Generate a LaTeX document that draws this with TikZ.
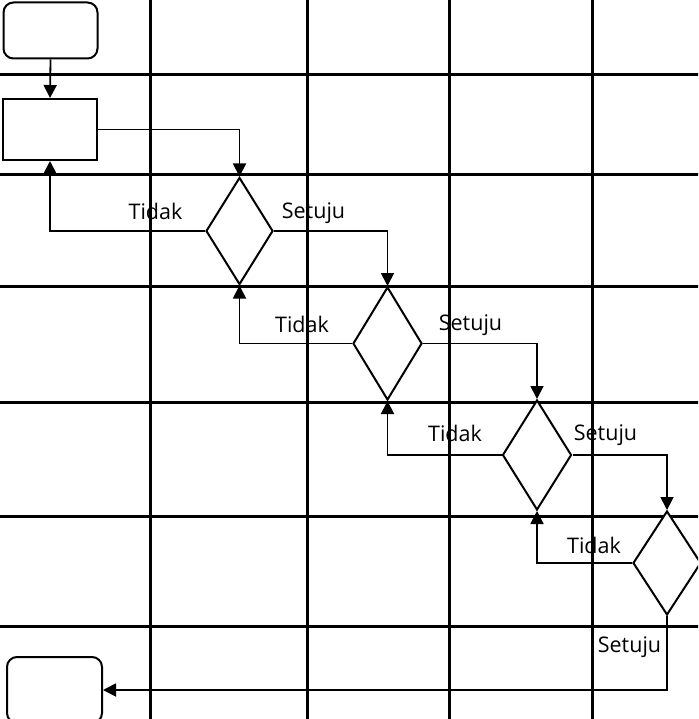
\documentclass[tikz,border=0pt]{standalone}
\usepackage{fontspec}
\setmainfont{Open Sans}
\usetikzlibrary{arrows.meta,shapes.geometric}
\begin{document}
\begin{tikzpicture}[x=1pt,y=-1pt,
  gridline/.style={line width=3pt,black},
  shapeline/.style={line width=2pt,draw=black,fill=white},
  conn/.style={line width=1.8pt,-{Triangle[length=13pt,width=13pt]}},
  lbl/.style={font=\fontsize{21.5}{24}\selectfont,inner sep=0pt},
]
\useasboundingbox (0,0) rectangle (698,719);
\clip (0,0) rectangle (698,719);
% labels (under grid)
\node[lbl] (t1) at (155.5,211) {Tidak};
\node[lbl] (s1) at (313.5,213) {Setuju};
\node[lbl] (t2) at (302,324) {Tidak};
\node[lbl] (s2) at (470.5,325) {Setuju};
\node[lbl] (t3) at (455,433) {Tidak};
\node[lbl] (s3) at (605.5,435) {Setuju};
\node[lbl] (t4) at (594,545) {Tidak};
\node[lbl] (s4) at (629.5,647) {Setuju};
% grid
\foreach \x in {150,307,449,592} \draw[gridline] (\x,-5) -- (\x,725);
\foreach \y in {75,175,286,402,516,626} \draw[gridline] (-5,\y) -- (705,\y);
% shapes
\node[shapeline,rounded corners=10pt,minimum width=94pt,minimum height=56pt,inner sep=0pt] (start) at (50.5,30.5) {};
\node[shapeline,minimum width=94pt,minimum height=61pt,inner sep=0pt] (proc) at (50,129.5) {};
\node[shapeline,diamond,inner sep=0pt,minimum width=67pt,minimum height=107pt,aspect=0.63] (d1) at (239.5,231) {};
\node[shapeline,diamond,inner sep=0pt,minimum width=69pt,minimum height=113pt,aspect=0.61] (d2) at (387.5,343.5) {};
\node[shapeline,diamond,inner sep=0pt,minimum width=69pt,minimum height=110pt,aspect=0.63] (d3) at (537,455) {};
\node[shapeline,diamond,inner sep=0pt,minimum width=68pt,minimum height=104pt,aspect=0.65] (d4) at (667,563) {};
\node[shapeline,rounded corners=10pt,minimum width=95pt,minimum height=66pt,inner sep=0pt] (endbox) at (54.5,690) {};
% connectors
\draw[conn] (start.south) -- (proc.north);
\draw[conn] (proc.east) -| (d1.north);
\draw[conn] (d1.west) -| (proc.south);
\draw[conn] (d1.east) -| (d2.north);
\draw[conn] (d2.west) -| (d1.south);
\draw[conn] (d2.east) -| (d3.north);
\draw[conn] (d3.west) -| (d2.south);
\draw[conn] (d3.east) -| (d4.north);
\draw[conn] (d4.west) -| (d3.south);
\draw[conn] (d4.south) |- (endbox.east);
\end{tikzpicture}
\end{document}
